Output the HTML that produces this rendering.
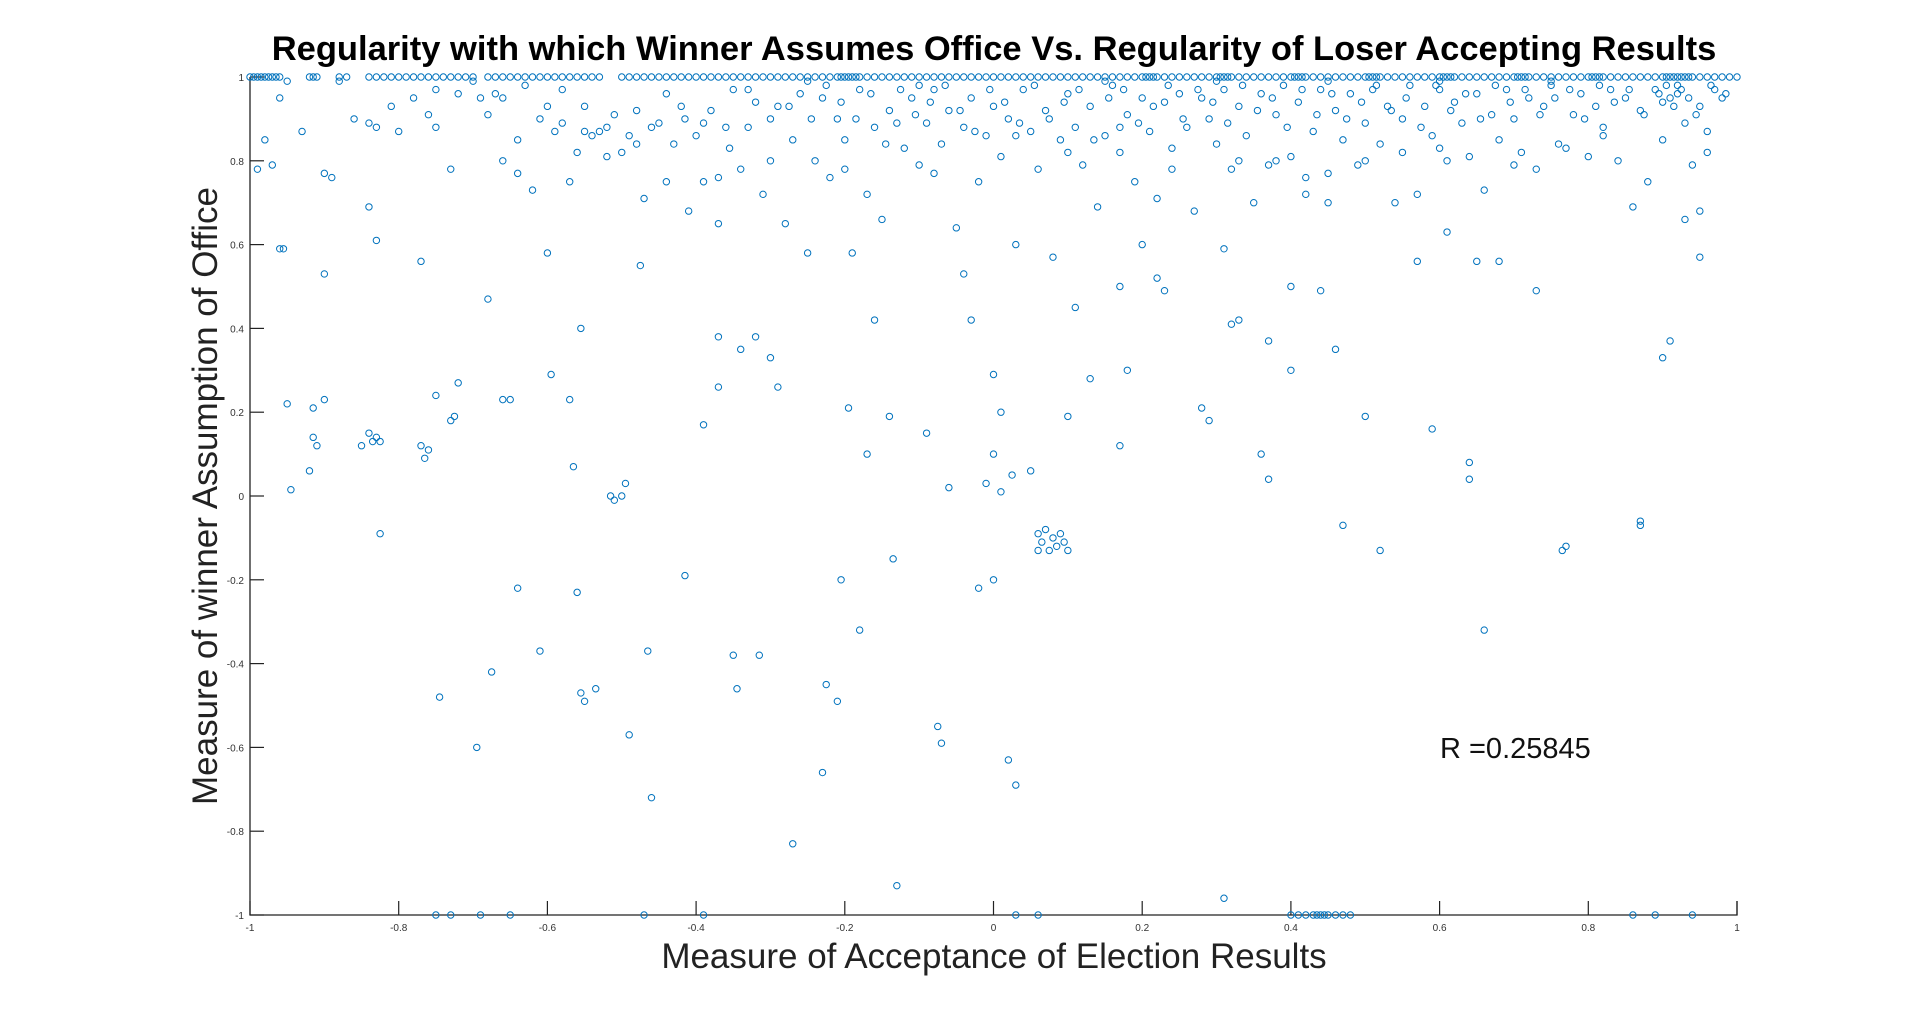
<!DOCTYPE html>
<html><head><meta charset="utf-8"><style>
body{margin:0;background:#fff;width:1920px;height:1029px;overflow:hidden}
svg{display:block}
text{font-family:"Liberation Sans",sans-serif}
</style></head><body>
<svg id="chart" width="1920" height="1029">
<text x="994" y="60" text-anchor="middle" font-size="34.5" font-weight="bold">Regularity with which Winner Assumes Office Vs. Regularity of Loser Accepting Results</text>
<text x="994" y="968" text-anchor="middle" font-size="35" fill="#222">Measure of Acceptance of Election Results</text>
<text transform="translate(217,496) rotate(-90)" text-anchor="middle" font-size="35" fill="#222">Measure of winner Assumption of Office</text>
<text x="1440" y="758" font-size="29" fill="#111">R =0.25845</text>
<g id="axes"></g><g id="marks"></g>
</svg>
<script>
const xTicks=[-1,-0.8,-0.6,-0.4,-0.2,0,0.2,0.4,0.6,0.8,1];
const yTicks=[-1,-0.8,-0.6,-0.4,-0.2,0,0.2,0.4,0.6,0.8,1];
const topRowX=[-1,-0.995,-0.99,-0.985,-0.98,-0.975,-0.97,-0.965,-0.96,-0.92,-0.915,-0.91,-0.88,-0.87,-0.84,-0.83,-0.82,-0.81,-0.8,-0.79,-0.78,-0.77,-0.76,-0.75,-0.74,-0.73,-0.72,-0.71,-0.7,-0.68,-0.67,-0.66,-0.65,-0.64,-0.63,-0.62,-0.61,-0.6,-0.59,-0.58,-0.57,-0.56,-0.55,-0.54,-0.53,-0.5,-0.49,-0.48,-0.47,-0.46,-0.45,-0.44,-0.43,-0.42,-0.41,-0.4,-0.39,-0.38,-0.37,-0.36,-0.35,-0.34,-0.33,-0.32,-0.31,-0.3,-0.29,-0.28,-0.27,-0.26,-0.25,-0.24,-0.23,-0.22,-0.21,-0.2,-0.19,-0.18,-0.17,-0.16,-0.15,-0.14,-0.13,-0.12,-0.11,-0.1,-0.09,-0.08,-0.07,-0.06,-0.05,-0.04,-0.03,-0.02,-0.01,0,0.01,0.02,0.03,0.04,0.05,0.06,0.07,0.08,0.09,0.1,0.11,0.12,0.13,0.14,0.15,0.16,0.17,0.18,0.19,0.2,0.21,0.22,0.23,0.24,0.25,0.26,0.27,0.28,0.29,0.3,0.31,0.32,0.33,0.34,0.35,0.36,0.37,0.38,0.39,0.4,0.41,0.42,0.43,0.44,0.45,0.46,0.47,0.48,0.49,0.5,0.51,0.52,0.53,0.54,0.55,0.56,0.57,0.58,0.59,0.6,0.61,0.62,0.63,0.64,0.65,0.66,0.67,0.68,0.69,0.7,0.71,0.72,0.73,0.74,0.75,0.76,0.77,0.78,0.79,0.8,0.81,0.82,0.83,0.84,0.85,0.86,0.87,0.88,0.89,0.9,0.91,0.92,0.93,0.94,0.95,0.96,0.97,0.98,0.99,1,-0.205,-0.195,-0.185,0.205,0.215,0.305,0.315,0.405,0.415,0.505,0.515,0.605,0.615,0.705,0.715,0.805,0.815,0.905,0.915,0.925,0.935];
const upperPoints=[[-0.98,0.85],[-0.96,0.95],[-0.93,0.87],[-0.88,0.99],[-0.86,0.9],[-0.84,0.89],[-0.83,0.88],[-0.8,0.87],[-0.78,0.95],[-0.76,0.91],[-0.75,0.97],[-0.75,0.88],[-0.73,0.78],[-0.7,0.99],[-0.69,0.95],[-0.67,0.96],[-0.66,0.95],[-0.66,0.8],[-0.64,0.85],[-0.64,0.77],[-0.62,0.73],[-0.61,0.9],[-0.6,0.93],[-0.59,0.87],[-0.58,0.89],[-0.57,0.75],[-0.56,0.82],[-0.55,0.87],[-0.54,0.86],[-0.53,0.87],[-0.52,0.81],[-0.51,0.91],[-0.5,0.82],[-0.49,0.86],[-0.48,0.92],[-0.47,0.71],[-0.46,0.88],[-0.45,0.89],[-0.44,0.75],[-0.43,0.84],[-0.42,0.93],[-0.41,0.68],[-0.4,0.86],[-0.39,0.75],[-0.38,0.92],[-0.37,0.65],[-0.36,0.88],[-0.35,0.97],[-0.34,0.78],[-0.33,0.88],[-0.32,0.94],[-0.31,0.72],[-0.3,0.8],[-0.29,0.93],[-0.28,0.65],[-0.27,0.85],[-0.26,0.96],[-0.25,0.58],[-0.24,0.8],[-0.23,0.95],[-0.22,0.76],[-0.21,0.9],[-0.2,0.85],[-0.19,0.58],[-0.18,0.97],[-0.17,0.72],[-0.16,0.88],[-0.15,0.66],[-0.14,0.92],[-0.13,0.89],[-0.12,0.83],[-0.11,0.95],[-0.1,0.79],[-0.09,0.89],[-0.08,0.97],[-0.07,0.84],[-0.06,0.92],[-0.05,0.64],[-0.04,0.88],[-0.03,0.95],[-0.02,0.75],[-0.01,0.86],[0,0.93],[0.01,0.81],[0.02,0.9],[0.03,0.6],[0.04,0.97],[0.05,0.87],[0.06,0.78],[0.07,0.92],[0.08,0.57],[0.09,0.85],[0.1,0.96],[0.11,0.88],[0.12,0.79],[0.13,0.93],[0.14,0.69],[0.15,0.86],[0.16,0.98],[0.17,0.82],[0.18,0.91],[0.19,0.75],[0.2,0.95],[0.21,0.87],[0.22,0.71],[0.23,0.94],[0.24,0.83],[0.25,0.96],[0.26,0.88],[0.27,0.68],[0.28,0.95],[0.29,0.9],[0.3,0.84],[0.31,0.97],[0.32,0.78],[0.33,0.93],[0.34,0.86],[0.35,0.7],[0.36,0.96],[0.37,0.79],[0.38,0.91],[0.39,0.98],[0.4,0.81],[0.41,0.94],[0.42,0.72],[0.43,0.87],[0.44,0.97],[0.45,0.77],[0.46,0.92],[0.47,0.85],[0.48,0.96],[0.49,0.79],[0.5,0.89],[0.51,0.97],[0.52,0.84],[0.53,0.93],[0.54,0.7],[0.55,0.9],[0.56,0.98],[0.57,0.72],[0.58,0.93],[0.59,0.86],[0.6,0.97],[0.61,0.8],[0.62,0.94],[0.63,0.89],[0.64,0.81],[0.65,0.96],[0.66,0.73],[0.67,0.91],[0.68,0.85],[0.69,0.97],[0.7,0.9],[0.71,0.82],[0.72,0.95],[0.73,0.78],[0.74,0.93],[0.75,0.98],[0.76,0.84],[0.77,0.83],[0.78,0.91],[0.79,0.96],[0.8,0.81],[0.81,0.93],[0.82,0.88],[0.83,0.97],[0.84,0.8],[0.85,0.95],[0.86,0.69],[0.87,0.92],[0.88,0.75],[0.89,0.97],[0.9,0.94],[0.91,0.95],[0.92,0.96],[0.93,0.89],[0.94,0.79],[0.95,0.93],[0.96,0.87],[0.97,0.97],[0.98,0.95],[-0.25,0.99],[-0.1,0.98],[0.15,0.99],[0.3,0.99],[0.45,0.99],[0.6,0.99],[0.75,0.99],[0.92,0.98]];
const upperPoints2=[[-0.95,0.99],[-0.9,0.77],[-0.81,0.93],[-0.72,0.96],[-0.68,0.91],[-0.63,0.98],[-0.58,0.97],[-0.55,0.93],[-0.52,0.88],[-0.48,0.84],[-0.44,0.96],[-0.415,0.9],[-0.39,0.89],[-0.355,0.83],[-0.33,0.97],[-0.3,0.9],[-0.275,0.93],[-0.245,0.9],[-0.225,0.98],[-0.205,0.94],[-0.185,0.9],[-0.165,0.96],[-0.145,0.84],[-0.125,0.97],[-0.105,0.91],[-0.085,0.94],[-0.065,0.98],[-0.045,0.92],[-0.025,0.87],[-0.005,0.97],[0.015,0.94],[0.035,0.89],[0.055,0.98],[0.075,0.9],[0.095,0.94],[0.115,0.97],[0.135,0.85],[0.155,0.95],[0.175,0.97],[0.195,0.89],[0.215,0.93],[0.235,0.98],[0.255,0.9],[0.275,0.97],[0.295,0.94],[0.315,0.89],[0.335,0.98],[0.355,0.92],[0.375,0.95],[0.395,0.88],[0.415,0.97],[0.435,0.91],[0.455,0.96],[0.475,0.9],[0.495,0.94],[0.515,0.98],[0.535,0.92],[0.555,0.95],[0.575,0.88],[0.595,0.98],[0.615,0.92],[0.635,0.96],[0.655,0.9],[0.675,0.98],[0.695,0.94],[0.715,0.97],[0.735,0.91],[0.755,0.95],[0.775,0.97],[0.795,0.9],[0.815,0.98],[0.835,0.94],[0.855,0.97],[0.875,0.91],[0.895,0.96],[0.905,0.98],[0.915,0.93],[0.925,0.97],[0.935,0.95],[0.945,0.91],[0.965,0.98],[0.985,0.96],[0.42,0.76],[0.5,0.8],[0.38,0.8],[0.6,0.83],[0.45,0.7],[0.24,0.78],[0.1,0.82],[-0.08,0.77],[0.03,0.86],[0.7,0.79],[0.82,0.86],[0.55,0.82],[0.33,0.8],[0.17,0.88],[-0.2,0.78],[-0.37,0.76],[0.9,0.85],[0.96,0.82]];
const lowerPoints=[[-0.99,0.78],[-0.97,0.79],[-0.96,0.59],[-0.955,0.59],[-0.95,0.22],[-0.945,0.015],[-0.92,0.06],[-0.915,0.14],[-0.91,0.12],[-0.915,0.21],[-0.9,0.23],[-0.9,0.53],[-0.89,0.76],[-0.85,0.12],[-0.84,0.15],[-0.835,0.13],[-0.83,0.14],[-0.825,0.13],[-0.84,0.69],[-0.83,0.61],[-0.825,-0.09],[-0.77,0.56],[-0.77,0.12],[-0.765,0.09],[-0.76,0.11],[-0.75,0.24],[-0.745,-0.48],[-0.73,0.18],[-0.725,0.19],[-0.72,0.27],[-0.695,-0.6],[-0.68,0.47],[-0.675,-0.42],[-0.66,0.23],[-0.65,0.23],[-0.64,-0.22],[-0.61,-0.37],[-0.6,0.58],[-0.595,0.29],[-0.57,0.23],[-0.565,0.07],[-0.56,-0.23],[-0.555,0.4],[-0.555,-0.47],[-0.55,-0.49],[-0.535,-0.46],[-0.515,0],[-0.51,-0.01],[-0.5,0],[-0.495,0.03],[-0.49,-0.57],[-0.475,0.55],[-0.465,-0.37],[-0.46,-0.72],[-0.415,-0.19],[-0.39,0.17],[-0.37,0.26],[-0.37,0.38],[-0.35,-0.38],[-0.345,-0.46],[-0.34,0.35],[-0.32,0.38],[-0.315,-0.38],[-0.3,0.33],[-0.29,0.26],[-0.27,-0.83],[-0.23,-0.66],[-0.225,-0.45],[-0.21,-0.49],[-0.205,-0.2],[-0.195,0.21],[-0.18,-0.32],[-0.17,0.1],[-0.16,0.42],[-0.14,0.19],[-0.135,-0.15],[-0.13,-0.93],[-0.09,0.15],[-0.075,-0.55],[-0.07,-0.59],[-0.06,0.02],[-0.04,0.53],[-0.03,0.42],[-0.02,-0.22],[-0.01,0.03],[0,0.29],[0,-0.2],[0,0.1],[0.01,0.01],[0.01,0.2],[0.02,-0.63],[0.025,0.05],[0.03,-0.69],[0.05,0.06],[0.06,-0.09],[0.065,-0.11],[0.07,-0.08],[0.075,-0.13],[0.08,-0.1],[0.085,-0.12],[0.09,-0.09],[0.095,-0.11],[0.06,-0.13],[0.1,-0.13],[0.1,0.19],[0.11,0.45],[0.13,0.28],[0.17,0.12],[0.17,0.5],[0.18,0.3],[0.2,0.6],[0.22,0.52],[0.23,0.49],[0.28,0.21],[0.29,0.18],[0.31,0.59],[0.32,0.41],[0.33,0.42],[0.36,0.1],[0.37,0.04],[0.37,0.37],[0.4,0.5],[0.4,0.3],[0.44,0.49],[0.46,0.35],[0.47,-0.07],[0.5,0.19],[0.52,-0.13],[0.57,0.56],[0.59,0.16],[0.61,0.63],[0.64,0.08],[0.64,0.04],[0.65,0.56],[0.66,-0.32],[0.68,0.56],[0.73,0.49],[0.765,-0.13],[0.77,-0.12],[0.87,-0.06],[0.87,-0.07],[0.9,0.33],[0.91,0.37],[0.93,0.66],[0.95,0.57],[0.95,0.68],[0.31,-0.96]];
const bottomRowX=[-0.75,-0.73,-0.69,-0.65,-0.47,-0.39,0.03,0.06,0.4,0.41,0.42,0.43,0.435,0.44,0.445,0.45,0.46,0.47,0.48,0.86,0.89,0.94];

const L=250,R=1737,T=77,B=915;
const sx=v=>L+(v+1)/2*(R-L);
const sy=v=>B-(v+1)/2*(B-T);
const NS='http://www.w3.org/2000/svg';
const axes=document.getElementById('axes'),marks=document.getElementById('marks');
function mk(tag,attrs,parent){const e=document.createElementNS(NS,tag);for(const k in attrs)e.setAttribute(k,attrs[k]);parent.appendChild(e);return e;}
let ax=mk('path',{d:`M${L},${T}V${B}H${R}V${B-14}`,fill:'none',stroke:'#222','stroke-width':1.3},axes);


xTicks.forEach(t=>{
  const l=mk('line',{x1:sx(t),x2:sx(t),y1:B,y2:B-14,stroke:'#222','stroke-width':1.2},axes);
  
  
  const tx=mk('text',{x:sx(t),y:B+16,'text-anchor':'middle','font-size':10,fill:'#333'},axes);
  tx.textContent=String(t);
  
  
});
yTicks.forEach(t=>{
  const l=mk('line',{x1:L,x2:L+14,y1:sy(t),y2:sy(t),stroke:'#222','stroke-width':1.2},axes);
  
  
  const tx=mk('text',{x:L-6,y:sy(t)+4,'text-anchor':'end','font-size':10,fill:'#333'},axes);
  tx.textContent=String(t);
  
  
});
function pt(x,y){
  const c=mk('circle',{cx:sx(x),cy:sy(y),r:3.2,fill:'none',stroke:'#0072BD','stroke-width':1},marks);
  
  
}
topRowX.forEach(x=>pt(x,1));
upperPoints.forEach(p=>pt(p[0],p[1]));
upperPoints2.forEach(p=>pt(p[0],p[1]));
lowerPoints.forEach(p=>pt(p[0],p[1]));
bottomRowX.forEach(x=>pt(x,-1));
</script>
</body></html>
